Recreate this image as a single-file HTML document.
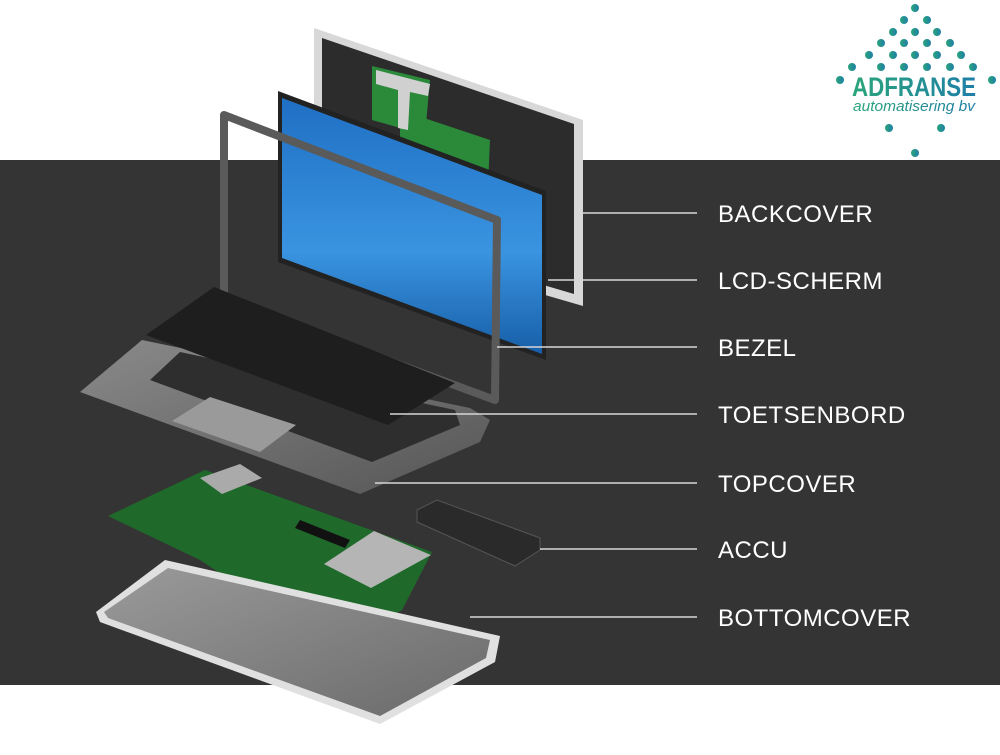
<!DOCTYPE html>
<html><head><meta charset="utf-8"><style>
body{margin:0;width:1000px;height:750px;background:#fff;overflow:hidden;font-family:"Liberation Sans",sans-serif}
</style></head><body>
<svg width="1000" height="750" viewBox="0 0 1000 750" xmlns="http://www.w3.org/2000/svg">
<defs>
<linearGradient id="blue" x1="0" y1="0" x2="0" y2="1"><stop offset="0" stop-color="#1f6fc4"/><stop offset="0.6" stop-color="#3a94e0"/><stop offset="1" stop-color="#175ea8"/></linearGradient>
<linearGradient id="pal" x1="0" y1="0" x2="1" y2="1"><stop offset="0" stop-color="#8a8a8a"/><stop offset="1" stop-color="#555"/></linearGradient>
<linearGradient id="bot" x1="0" y1="0" x2="1" y2="1"><stop offset="0" stop-color="#9a9a9a"/><stop offset="1" stop-color="#6a6a6a"/></linearGradient>
<linearGradient id="logo" x1="0" y1="0" x2="1" y2="0"><stop offset="0" stop-color="#2aa57a"/><stop offset="1" stop-color="#1f7fa8"/></linearGradient>
</defs>
<rect x="0" y="160" width="1000" height="525" fill="#343434"/>
<!-- backcover -->
<polygon points="314,28 583,120 583,306 314,228" fill="#d8d8d8"/>
<polygon points="322,38 574,124 574,294 322,220" fill="#2c2c2c"/>
<polygon points="372,66 430,80 425,135 372,120" fill="#2b8a3a"/>
<polygon points="400,110 490,140 488,185 400,160" fill="#2b8a3a"/>
<polygon points="376,70 430,84 428,96 410,92 408,130 398,128 398,90 376,84" fill="#d0d0d0"/>
<!-- LCD -->
<polygon points="278,91 546,191 546,360 278,262" fill="#222"/>
<polygon points="282,98 542,195 542,354 282,258" fill="url(#blue)"/>
<!-- bezel -->
<polygon points="224,115 497,220 495,400 224,300" fill="none" stroke="#5a5a5a" stroke-width="8" stroke-linejoin="round"/>
<!-- topcover -->
<polygon points="142,340 470,408 490,420 480,442 360,494 80,392" fill="url(#pal)"/>
<polygon points="180,352 455,410 460,425 372,462 150,380" fill="#2e2e2e"/>
<polygon points="172,421 210,397 296,425 260,452" fill="#9a9a9a"/>
<!-- keyboard -->
<polygon points="214,287 455,383 388,425 146,335" fill="#1e1e1e"/>
<!-- motherboard -->
<polygon points="108,516 205,470 432,552 402,610 362,632 230,580 200,560" fill="#1f6a2a"/>
<polygon points="200,478 240,464 262,478 222,494" fill="#aaa"/>
<polygon points="324,564 374,531 431,555 371,588" fill="#b5b5b5"/>
<polygon points="300,520 350,540 345,548 295,528" fill="#111"/>
<!-- battery -->
<polygon points="417,510 437,500 540,538 540,550 515,566 417,522" fill="#2a2a2a" stroke="#555"/>
<!-- bottomcover -->
<polygon points="96,612 165,560 500,636 495,662 380,724 100,622" fill="#e0e0e0"/>
<polygon points="104,612 168,568 490,640 486,658 380,716 108,618" fill="url(#bot)"/>
<!-- lines -->
<g stroke="#d6d6d6" stroke-width="1.5">
<line x1="583" y1="213" x2="697" y2="213"/>
<line x1="548" y1="280" x2="697" y2="280"/>
<line x1="497" y1="347" x2="697" y2="347"/>
<line x1="390" y1="414" x2="697" y2="414"/>
<line x1="375" y1="483" x2="697" y2="483"/>
<line x1="540" y1="549" x2="697" y2="549"/>
<line x1="470" y1="617" x2="697" y2="617"/>
</g>
<g fill="#fff" font-size="24" font-family="Liberation Sans, sans-serif" letter-spacing="0.5">
<text x="718" y="222">BACKCOVER</text>
<text x="718" y="289">LCD-SCHERM</text>
<text x="718" y="356">BEZEL</text>
<text x="718" y="423">TOETSENBORD</text>
<text x="718" y="492">TOPCOVER</text>
<text x="718" y="558">ACCU</text>
<text x="718" y="626">BOTTOMCOVER</text>
</g>
<!-- logo -->
<g fill="url(#logo)">
<circle cx="915" cy="8" r="4"/>
<circle cx="904" cy="20" r="4"/><circle cx="927" cy="20" r="4"/>
<circle cx="893" cy="32" r="4"/><circle cx="915" cy="32" r="4"/><circle cx="937" cy="32" r="4"/>
<circle cx="881" cy="43" r="4"/><circle cx="904" cy="43" r="4"/><circle cx="927" cy="43" r="4"/><circle cx="950" cy="43" r="4"/>
<circle cx="869" cy="55" r="4"/><circle cx="893" cy="55" r="4"/><circle cx="915" cy="55" r="4"/><circle cx="937" cy="55" r="4"/><circle cx="961" cy="55" r="4"/>
<circle cx="852" cy="67" r="4"/><circle cx="881" cy="67" r="4"/><circle cx="904" cy="67" r="4"/><circle cx="927" cy="67" r="4"/><circle cx="950" cy="67" r="4"/><circle cx="973" cy="67" r="4"/>
<circle cx="840" cy="80" r="4"/><circle cx="992" cy="80" r="4"/>
<circle cx="889" cy="128" r="4"/><circle cx="941" cy="128" r="4"/>
<circle cx="915" cy="153" r="4"/>
</g>
<text x="852" y="96" font-size="27" font-weight="bold" fill="url(#logo)" font-family="Liberation Sans, sans-serif" textLength="124" lengthAdjust="spacingAndGlyphs">ADFRANSE</text>
<text x="853" y="111" font-size="15" font-style="italic" fill="url(#logo)" font-family="Liberation Sans, sans-serif" textLength="122" lengthAdjust="spacingAndGlyphs">automatisering bv</text>
</svg>
</body></html>
